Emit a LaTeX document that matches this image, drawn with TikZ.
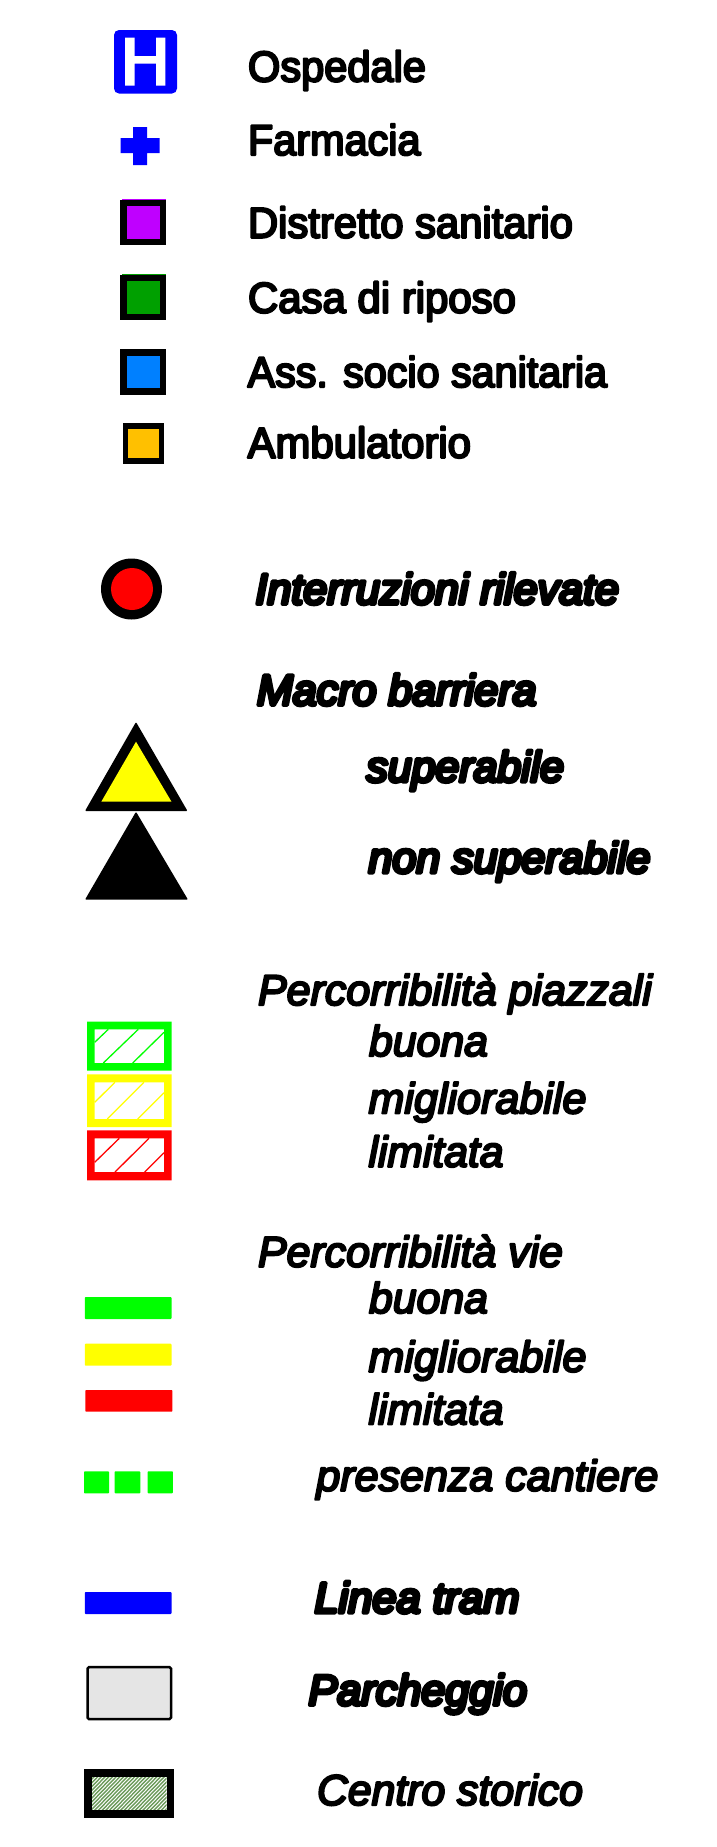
\documentclass[tikz,border=0pt]{standalone}
\usepackage{fontspec}
\usepackage{graphicx}
\newfontface\fplain[FakeBold=5]{Liberation Sans}
\newfontface\fital[FakeBold=5]{Liberation Sans Italic}
\newfontface\fheavy[FakeBold=9]{Liberation Sans Italic}
\definecolor{cviola}{HTML}{BF00FF}
\definecolor{cverde}{HTML}{00A000}
\definecolor{cazz}{HTML}{0080FF}
\definecolor{cor}{HTML}{FFC000}
\definecolor{cgrigio}{HTML}{E5E5E5}
\definecolor{cstor}{HTML}{6B9A5A}
\definecolor{gg}{HTML}{00FF00}
\definecolor{yy}{HTML}{FFFF00}
\definecolor{rr}{HTML}{FF0000}
\definecolor{bb}{HTML}{0000FF}
\tikzset{
  lab/.style={anchor=base west,inner sep=0pt,outer sep=0pt,font=\fontsize{43}{43}\selectfont},
  svc/.style={draw=black,line width=6.5pt,line join=miter},
  barbox/.style={rounded corners=0.8pt,draw=none},
  hatchline/.style={line width=1.3pt},
}
% label: name, x, baseline y, width, font, text
\newcommand{\lbl}[6]{\node[lab] (#1) at (#2,#3) {\pgfsetroundjoin #5\resizebox{#4pt}{\height}{#6}};}
\begin{document}
\begin{tikzpicture}[x=1pt,y=-1pt]
\useasboundingbox (0,0) rectangle (717,1847);
\fill[white] (0,0) rectangle (717,1847);

% Ospedale
\fill[bb,rounded corners=5pt] (114,30) rectangle (177,93.5);
\fill[white] (125,37.5) rectangle (134.5,85.5) (156,37.5) rectangle (165.3,85.5) (134.5,56) rectangle (156,63.5);
% Farmacia
\fill[bb] (133,127) -- (147,127) -- (147,138) -- (159.5,138) -- (159.5,153) -- (147,153) -- (147,165) -- (133,165) -- (133,153) -- (120.5,153) -- (120.5,138) -- (133,138) -- cycle;
% service squares
\fill[cviola] (122,199) rectangle (166,243);
\fill[cverde] (122,274) rectangle (166,318);
\fill[cazz] (122,348.5) rectangle (166,392.5);
\filldraw[svc,fill=cviola] (123.5,203) rectangle (163,242);
\filldraw[svc,fill=cverde] (123.5,278) rectangle (163,317);
\filldraw[svc,fill=cazz] (123.5,352.5) rectangle (163,391.5);
\filldraw[svc,line width=5.5pt,fill=cor] (125.7,426) rectangle (161.3,461);

\lbl{ospedale}{248}{81.5}{178}{\fplain}{Ospedale}
\lbl{farmacia}{248}{155}{172.5}{\fplain}{Farmacia}
\lbl{distretto}{248}{237.7}{325}{\fplain}{Distretto sanitario}
\lbl{casa}{248}{312.7}{268}{\fplain}{Casa di riposo}
\lbl{ass}{247.6}{387}{359.5}{\fplain}{Ass. socio sanitaria}
\lbl{amb}{247.6}{457.7}{223.4}{\fplain}{Ambulatorio}

% Interruzioni
\fill[black] (131.5,589) ellipse (30.5 and 30.5);
\fill[rr] (132,589) ellipse (21 and 21);
\lbl{interr}{255.5}{604}{363.5}{\fheavy}{Interruzioni rilevate}
\lbl{macro}{257}{705}{279.5}{\fheavy}{Macro barriera}
\lbl{sup}{366.5}{781.7}{197.5}{\fheavy}{superabile}
\lbl{nonsup}{368.5}{872.7}{282}{\fheavy}{non superabile}

% triangles
\fill[black,rounded corners=1pt] (136,722) -- (187.5,811) -- (85,811) -- cycle;
\fill[yy] (136,741.7) -- (171.5,801.7) -- (101.3,801.7) -- cycle;
\fill[black,rounded corners=1pt] (136,811.7) -- (188,899.7) -- (85,899.7) -- cycle;

% piazzali
\fill[gg,even odd rule] (87,1021.7) rectangle (171.7,1070.7) (94.7,1029.3) rectangle (164,1063);
\fill[yy,even odd rule] (87,1074.3) rectangle (171.7,1127) (94.7,1082.3) rectangle (164,1119);
\fill[rr,even odd rule] (87,1130.3) rectangle (171.7,1180.3) (94.7,1138.3) rectangle (164,1172);
\draw[hatchline,gg] (94.7,1042.3) -- (108.3,1029.3) (103.3,1063) -- (138.3,1029.3) (132.7,1063) -- (164,1032.3);
\draw[hatchline,yy] (94.7,1102.3) -- (115,1082.3) (107.3,1119) -- (144,1082.3) (137.7,1119) -- (164,1092.7);
\draw[hatchline,rr] (94.7,1162.3) -- (119.3,1138.3) (115,1172) -- (149,1138.3) (144.7,1172) -- (164,1152.7);

\lbl{perp}{258}{1005}{394}{\fital}{Percorribilità piazzali}
\lbl{pbuona}{369}{1056}{119}{\fital}{buona}
\lbl{pmigl}{368.5}{1113.3}{218}{\fital}{migliorabile}
\lbl{plim}{368.5}{1166.7}{135}{\fital}{limitata}
\lbl{perv}{258}{1266.7}{305}{\fital}{Percorribilità vie}
\lbl{vbuona}{369}{1313}{119}{\fital}{buona}
\lbl{vmigl}{368.5}{1371.7}{218}{\fital}{migliorabile}
\lbl{vlim}{368.5}{1424.3}{135}{\fital}{limitata}

% vie
\fill[gg,barbox] (84.8,1297) rectangle (171.5,1319);
\fill[yy,barbox] (84.8,1343.7) rectangle (171.5,1365.7);
\fill[rr,barbox] (85.3,1390) rectangle (172.4,1411.7);
\fill[gg,barbox] (84,1471.3) rectangle (109,1493.3);
\fill[gg,barbox] (114.6,1471.3) rectangle (140.3,1493.3);
\fill[gg,barbox] (147.6,1471.3) rectangle (172.9,1493.3);
\lbl{cantiere}{316.4}{1490.7}{342}{\fital}{presenza cantiere}

% tram
\fill[bb,barbox] (84.8,1592) rectangle (171.5,1614);
\lbl{tram}{314.5}{1612.7}{205}{\fheavy}{Linea tram}

% parcheggio
\filldraw[draw=black,fill=cgrigio,line width=2.5pt,rounded corners=1.5pt] (87.5,1667.2) rectangle (171.1,1719.1);
\lbl{parch}{308.5}{1705}{218.5}{\fheavy}{Parcheggio}

% centro storico
\begin{scope}
\clip (92,1776.7) rectangle (166.7,1810.3);
\foreach \k in {0,...,32} {
  \draw[cstor,line width=1.4pt] ({92+\k*3.7-36},1812) -- ({92+\k*3.7},1775);
}
\end{scope}
\draw[black,line width=7.7pt] (87.9,1772.9) rectangle (170.5,1813.9);
\lbl{centro}{317}{1805}{266}{\fital}{Centro storico}
\end{tikzpicture}
\end{document}
